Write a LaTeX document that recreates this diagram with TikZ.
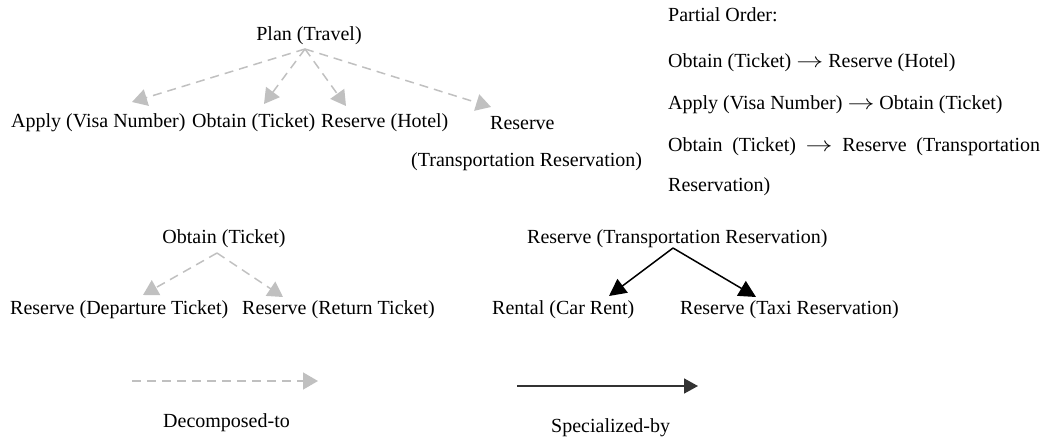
\documentclass[tikz,border=0pt]{standalone}
\usepackage{fontspec}
\setmainfont{Liberation Serif}
\usetikzlibrary{arrows.meta}
\definecolor{decomp}{HTML}{C0C0C0}
\definecolor{legdark}{HTML}{333333}
\newcommand{\poarrow}{\scalebox{1.3}[1]{$\rightarrow$}}
\tikzset{
  lbl/.style={inner sep=0pt, anchor=west, font=\fontsize{20}{24}\selectfont},
  decarrow/.style={draw=decomp, line width=1.5pt, dash pattern=on 9pt off 6pt,
    -{Triangle[length=15pt,width=17pt,fill=decomp]}},
  specarrow/.style={draw=black, line width=1.5pt,
    -{Triangle[length=17pt,width=17pt,fill=black]}},
  legspec/.style={draw=legdark, line width=1.8pt,
    -{Triangle[length=14pt,width=15pt,fill=legdark]}},
}
\begin{document}
\begin{tikzpicture}[x=1pt,y=-1pt]
\useasboundingbox (0,0) rectangle (1047,441);

% --- decomposition of the travel plan ---
\node[lbl, anchor=center] (plan) at (309,36) {Plan (Travel)};
\node[lbl] (apply)  at (11,123)  {Apply (Visa Number)};
\node[lbl] (obtain) at (192,123) {Obtain (Ticket)};
\node[lbl] (hotel)  at (321,123) {Reserve (Hotel)};
\node[lbl] (resv)   at (490,123) {Reserve};
\node[lbl] (resv2)  at (411,162) {(Transportation Reservation)};

\coordinate (pO) at (305,49);
\coordinate (tApply)  at (132,102);
\coordinate (tObtain) at (264,104);
\coordinate (tHotel)  at (346,106);
\coordinate (tResv)   at (491,107);
\draw[decarrow] (pO) -- (tApply);
\draw[decarrow] (pO) -- (tObtain);
\draw[decarrow] (pO) -- (tHotel);
\draw[decarrow] (pO) -- (tResv);

% --- partial order ---
\node[lbl] (po0) at (668,15)  {Partial Order:};
\node[lbl] (po1) at (668,63)  {Obtain (Ticket) \poarrow{} Reserve (Hotel)};
\node[lbl] (po2) at (668,105) {Apply (Visa Number) \poarrow{} Obtain (Ticket)};
\node[lbl] (po3) at (668,147) {\makebox[372pt][s]{Obtain (Ticket) \poarrow{} Reserve (Transportation}};
\node[lbl] (po4) at (668,187) {Reservation)};

% --- decomposition of the ticket ---
\node[lbl, anchor=center] (tick) at (224,239) {Obtain (Ticket)};
\node[lbl] (dep) at (10,310)  {Reserve (Departure Ticket)};
\node[lbl] (ret) at (242,310) {Reserve (Return Ticket)};
\coordinate (tO) at (217,253);
\coordinate (tDep) at (143,295);
\coordinate (tRet) at (283,297);
\draw[decarrow] (tO) -- (tDep);
\draw[decarrow] (tO) -- (tRet);

% --- specialization of the transportation reservation ---
\node[lbl] (trans) at (527,239) {Reserve (Transportation Reservation)};
\node[lbl] (car)   at (492,310) {Rental (Car Rent)};
\node[lbl] (taxi)  at (680,310) {Reserve (Taxi Reservation)};
\coordinate (sO) at (673,248);
\coordinate (sCar) at (609,296);
\coordinate (sTaxi) at (756,297);
\draw[specarrow] (sO) -- (sCar);
\draw[specarrow] (sO) -- (sTaxi);

% --- legend ---
\coordinate (l1a) at (132,381);
\coordinate (l1b) at (318,381);
\coordinate (l2a) at (517,386);
\coordinate (l2b) at (698,386);
\draw[decarrow] (l1a) -- (l1b);
\draw[legspec] (l2a) -- (l2b);
\node[lbl] (legd) at (163,423) {Decomposed-to};
\node[lbl] (legs) at (551,428) {Specialized-by};
\end{tikzpicture}
\end{document}
